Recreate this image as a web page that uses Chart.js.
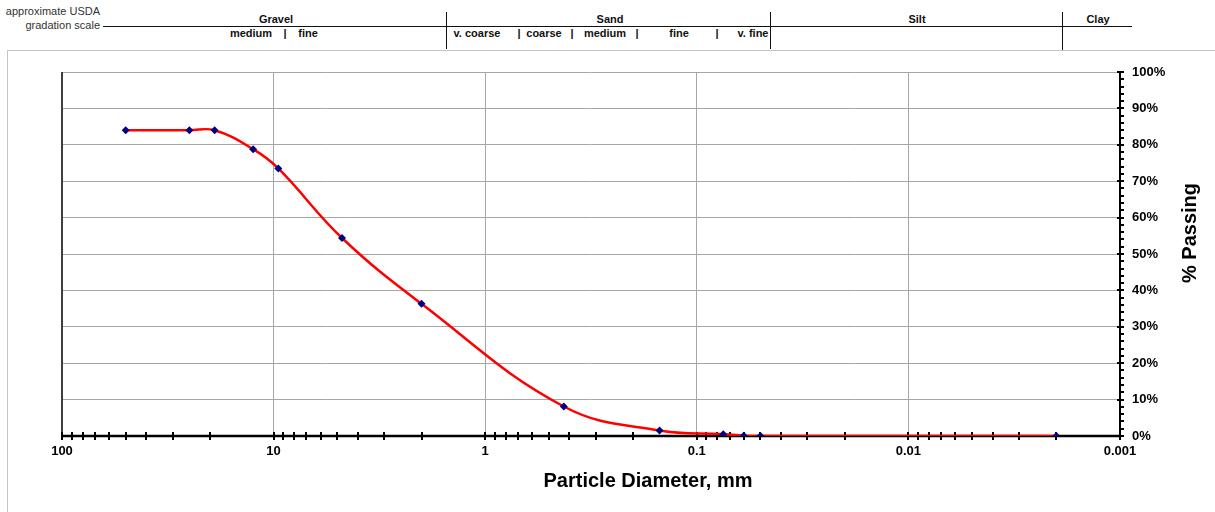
<!DOCTYPE html>
<html>
<head>
<meta charset="utf-8">
<script src="https://cdn.jsdelivr.net/npm/chart.js@4/dist/chart.umd.min.js"></script>
<style>
    html, body { margin: 0; padding: 0; background: #fff; }
    body { width: 1215px; height: 512px; position: relative; overflow: hidden; font-family: "Liberation Sans", Arial, sans-serif; }
    .marco { position: absolute; left: 7px; top: 50px; width: 1300px; height: 500px; border-top: 1px solid #c4c4c4; border-left: 1px solid #c4c4c4; }
    .txt { position: absolute; font-size: 11px; line-height: 13px; color: #111; white-space: nowrap; }
    .der { text-align: right; }
    .cen { transform: translateX(-50%); font-weight: bold; }
    .lin { position: absolute; background: #111; }
    #contenedor { position: absolute; left: 0; top: 0; width: 1215px; height: 512px; }
</style>
</head>
<body>
<div class="marco"></div>

<!-- escala USDA aproximada -->
<div class="txt der" style="left:0;width:100px;top:5px;color:#333">approximate USDA</div>
<div class="txt der" style="left:0;width:100px;top:19px;color:#333">gradation scale</div>
<div class="lin" style="left:103px;top:26px;width:1029px;height:1px"></div>
<div class="lin" style="left:446px;top:12px;width:1px;height:37px"></div>
<div class="lin" style="left:770px;top:12px;width:1px;height:37px"></div>
<div class="lin" style="left:1062px;top:12px;width:1px;height:38px"></div>
<div id="cabecera"></div>

<div id="contenedor"><canvas id="grafico-granulometria"></canvas></div>

<script>
// Datos de la curva granulométrica
const diametros = [50, 25, 19, 12.5, 9.5, 4.75, 2.0, 0.425, 0.15, 0.075, 0.06, 0.05, 0.002];
const pasante = [84, 84, 84, 78.8, 73.5, 54.4, 36.3, 8.1, 1.5, 0.5, 0.1, 0, 0];

// Ejes
const decadasX = [100, 10, 1, 0.1, 0.01, 0.001];
const etiquetasX = ['100', '10', '1', '0.1', '0.01', '0.001'];
const marcasY = [0, 10, 20, 30, 40, 50, 60, 70, 80, 90, 100];

// Cabecera: [texto, centro x]
const clases = [['Gravel', 276], ['Sand', 610], ['Silt', 917], ['Clay', 1098]];
const subclases = [
    ['medium', 251], ['|', 285], ['fine', 308],
    ['v. coarse', 477], ['|', 519], ['coarse', 544], ['|', 572], ['medium', 605],
    ['|', 637], ['fine', 679], ['|', 717], ['v. fine', 753]
];

const cab = document.getElementById('cabecera');
clases.forEach(c => {
    cab.insertAdjacentHTML('beforeend', `<div class="txt cen" style="left:${c[1]}px;top:13px">${c[0]}</div>`);
});
subclases.forEach(c => {
    cab.insertAdjacentHTML('beforeend', `<div class="txt cen" style="left:${c[1]}px;top:27px;background:#fff">${c[0]}</div>`);
});

// Marcas menores del eje logarítmico
const valoresX = [];
[0.001, 0.01, 0.1, 1, 10].forEach(d => {
    for (let m = 1; m <= 9; m++) valoresX.push(parseFloat((m * d).toPrecision(3)));
});
valoresX.push(100);

function esDecada(v) {
    return decadasX.findIndex(d => Math.abs(Math.log10(v) - Math.log10(d)) < 1e-6);
}

const fuente = 'Liberation Sans, Arial, sans-serif';

const marcasEjes = {
    id: 'marcasEjes',
    beforeDatasetsDraw(chart) {
        const { ctx, chartArea: a, scales: { x, y } } = chart;
        ctx.save();
        // borde izquierdo
        ctx.strokeStyle = '#404040';
        ctx.lineWidth = 2;
        ctx.beginPath();
        ctx.moveTo(a.left, a.top);
        ctx.lineTo(a.left, a.bottom);
        ctx.stroke();
        // eje inferior algo más grueso
        ctx.strokeStyle = '#000';
        ctx.lineWidth = 2.5;
        ctx.beginPath();
        ctx.moveTo(a.left, a.bottom);
        ctx.lineTo(a.right, a.bottom);
        ctx.stroke();
        // marcas eje x
        ctx.lineWidth = 2;
        ctx.beginPath();
        valoresX.forEach(v => {
            const px = Math.round(x.getPixelForValue(v));
            ctx.moveTo(px, a.bottom - 4);
            ctx.lineTo(px, a.bottom + 4);
        });
        // marcas eje y cada 2%
        for (let v = 0; v <= 100; v += 2) {
            const py = Math.round(y.getPixelForValue(v));
            ctx.moveTo(v % 10 === 0 ? a.right - 3 : a.right, py);
            ctx.lineTo(a.right + 4, py);
        }
        ctx.stroke();
        ctx.restore();
    },
    afterDraw(chart) {
        const { ctx } = chart;
        ctx.save();
        ctx.fillStyle = '#000';
        ctx.font = `bold 20px ${fuente}`;
        ctx.textAlign = 'center';
        ctx.textBaseline = 'middle';
        ctx.fillText('Particle Diameter, mm', 648, 481);
        ctx.translate(1190, 233);
        ctx.rotate(-Math.PI / 2);
        ctx.fillText('% Passing', 0, 0);
        ctx.restore();
    }
};

new Chart(document.getElementById('grafico-granulometria').getContext('2d'), {
    type: 'scatter',
    data: {
        datasets: [{
            label: '% Passing',
            data: diametros.map((d, i) => ({ x: d, y: pasante[i] })),
            showLine: true,
            borderColor: '#ff0000',
            borderWidth: 2.5,
            tension: 0.4,
            pointStyle: 'rectRot',
            pointRadius: 4,
            pointBackgroundColor: '#000080',
            pointBorderColor: '#000080',
            pointBorderWidth: 0
        }]
    },
    options: {
        responsive: true,
        maintainAspectRatio: false,
        animation: false,
        layout: { padding: { left: 62, top: 72, right: 0, bottom: 0 } },
        plugins: {
            legend: { display: false },
            tooltip: { enabled: false }
        },
        scales: {
            x: {
                type: 'logarithmic',
                reverse: true,
                min: 0.001,
                max: 100,
                afterBuildTicks: scale => { scale.ticks = valoresX.map(v => ({ value: v })); },
                afterFit: scale => { scale.height = 76; },
                ticks: {
                    autoSkip: false,
                    maxRotation: 0,
                    padding: 8,
                    color: '#000',
                    font: { family: fuente, size: 13, weight: 'bold' },
                    callback: v => {
                        const i = esDecada(v);
                        return i >= 0 ? etiquetasX[i] : '';
                    }
                },
                grid: {
                    drawTicks: false,
                    color: c => (c.tick && esDecada(c.tick.value) >= 0) ? '#a6a6a6' : 'rgba(0,0,0,0)'
                },
                border: { display: true, color: '#000', width: 2 }
            },
            y: {
                position: 'right',
                min: 0,
                max: 100,
                afterBuildTicks: scale => { scale.ticks = marcasY.map(v => ({ value: v })); },
                afterFit: scale => { scale.width = 95; },
                ticks: {
                    padding: 12,
                    color: '#000',
                    font: { family: fuente, size: 13, weight: 'bold' },
                    callback: v => v + '%'
                },
                grid: { drawTicks: false, color: '#a6a6a6' },
                border: { display: true, color: '#000', width: 2 }
            }
        }
    },
    plugins: [marcasEjes]
});
</script>
</body>
</html>
